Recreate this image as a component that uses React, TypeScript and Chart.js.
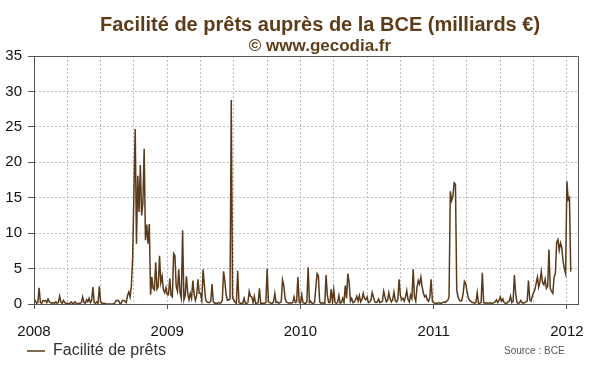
import React, { useEffect, useRef } from 'react';
import { Chart, registerables } from 'chart.js';

Chart.register(...registerables);

const TITLE = 'Facilité de prêts auprès de la BCE (milliards €)';
const SUBTITLE = '© www.gecodia.fr';
const SERIES_LABEL = 'Facilité de prêts';
const SOURCE = 'Source : BCE';
const YEAR_LABELS = ['2008', '2009', '2010', '2011', '2012'];
const Y_MIN = 0;
const Y_MAX = 35;
const Y_STEP = 5;
const STEPS_PER_YEAR = 104; // two readings per week

// Marginal lending facility (billions €), two readings per week
const y2008 = [
  0.6, 0.5, 0.1, 0.2, 2.3, 0.2, 0.1, 0.5, 0.4, 0.5,
  0.2, 0.7, 0.3, 0.2, 0.1, 0.2, 0.1, 0.3, 0.1, 0.2,
  1.1, 0.3, 0.1, 0.5, 0.2, 0.1, 0.1, 0.0, 0.1, 0.3,
  0.1, 0.1, 0.3, 0.1, 0.0, 0.1, 0.1, 0.2, 1.0, 0.2,
  0.1, 0.6, 0.3, 0.8, 0.2, 0.5, 2.4, 0.2, 0.1, 0.3,
  0.1, 2.5, 0.3, 0.1, 0.1, 0.1, 0.0, 0.0, 0.0, 0.0,
  0.0, 0.0, 0.0, 0.1, 0.5, 0.5, 0.5, 0.1, 0.1, 0.5,
  0.5, 0.4, 0.2, 1.2, 1.7, 1.0, 2.5, 6.5, 15.8, 24.7,
  8.5, 18.1, 13.0, 19.6, 12.5, 14.3, 21.9, 9.0, 11.2, 8.5,
  11.3, 1.3, 3.8, 2.2, 2.0, 5.9, 2.1, 2.5, 6.8, 3.0,
  3.9, 2.0, 1.6, 2.3,
];

const y2009 = [
  1.3, 1.3, 3.6, 1.2, 1.0, 7.1, 6.8, 2.5, 1.8, 4.9,
  1.6, 0.8, 10.4, 0.6, 1.2, 3.9, 1.5, 0.6, 1.5, 0.8,
  3.3, 1.4, 0.5, 1.2, 3.5, 1.5, 1.5, 0.5, 4.9, 2.6,
  0.6, 0.3, 0.2, 0.2, 0.4, 2.8, 0.3, 0.1, 0.1, 0.1,
  0.2, 0.1, 0.2, 0.5, 4.6, 3.2, 1.3, 0.5, 0.6, 0.7,
  28.8, 0.8, 0.6, 0.2, 0.1, 4.7, 0.2, 0.1, 0.1, 0.1,
  0.8, 0.1, 0.1, 0.2, 1.8, 1.1, 1.0, 0.2, 1.1, 0.1,
  0.1, 0.2, 2.2, 0.1, 0.1, 0.1, 0.1, 0.2, 5.0, 0.3,
  0.2, 0.1, 0.1, 0.3, 1.5, 0.2, 0.3, 0.1, 0.2, 0.3,
  3.4, 2.6, 0.8, 0.3, 0.2, 0.1, 0.2, 0.1, 0.2, 1.0,
  0.2, 0.3, 3.8, 0.3,
];

const y2010 = [
  0.1, 1.3, 0.2, 0.1, 0.1, 0.3, 5.2, 0.2, 0.4, 0.1,
  0.1, 0.2, 2.3, 4.3, 4.0, 0.3, 0.1, 0.2, 0.1, 0.1,
  4.1, 1.2, 0.2, 0.2, 2.1, 0.3, 2.0, 0.2, 0.1, 0.2,
  1.2, 0.1, 0.2, 0.8, 0.2, 2.6, 0.8, 4.3, 3.0, 0.4,
  0.8, 0.2, 0.3, 0.6, 1.1, 0.4, 1.2, 0.3, 0.6, 1.5,
  0.8, 0.6, 1.0, 0.2, 0.3, 0.5, 1.6, 1.0, 0.3, 0.2,
  0.3, 0.7, 0.2, 0.3, 0.4, 1.8, 1.0, 0.3, 0.5, 1.6,
  0.7, 0.3, 0.6, 1.7, 0.5, 0.3, 0.6, 3.5, 1.2, 0.6,
  0.8, 0.4, 1.0, 1.9, 0.6, 0.3, 1.3, 0.8, 4.9, 1.0,
  0.4, 2.4, 3.3, 2.8, 3.8, 2.4, 1.5, 1.0, 1.2, 0.6,
  0.4, 1.0, 3.5, 0.4,
];

const y2011 = [
  0.2, 0.1, 0.1, 0.1, 0.2, 0.1, 0.1, 0.2, 0.3, 0.2,
  0.4, 0.5, 1.0, 15.9, 14.6, 15.2, 17.1, 16.9, 2.0, 1.0,
  0.6, 0.4, 0.5, 1.5, 3.2, 2.9, 1.8, 0.9, 0.5, 0.4,
  0.2, 0.2, 0.1, 0.2, 1.6, 0.1, 0.1, 0.2, 4.4, 0.2,
  0.1, 0.2, 0.1, 0.1, 0.2, 0.1, 0.1, 0.2, 0.3, 0.6,
  0.2, 0.5, 1.0, 0.4, 0.7, 0.2, 0.1, 0.1, 0.3, 0.4,
  1.1, 0.2, 0.4, 4.1, 1.5, 0.2, 0.1, 0.2, 0.5, 0.2,
  0.1, 0.2, 0.3, 0.4, 3.3, 0.6, 0.4, 1.1, 1.6, 2.0,
  2.9, 3.8, 2.4, 3.2, 4.6, 3.0, 2.7, 3.5, 2.2, 2.5,
  7.7, 2.2, 1.8, 1.5, 3.8, 4.3, 8.7, 9.1, 7.6, 8.6,
  8.0, 6.0, 5.0, 4.3,
];

const y2012 = [17.3, 14.7, 15.0, 4.6];

const X_MIN = 2008;
const X_MAX = 2012 + 1 / 12;

const BROWN = '#5a3a1b';
const TITLE_COLOR = '#5e3c19';
const AXIS_COLOR = '#555555';
const GRID_COLOR = '#bdbdbd';
const FONT = "'Liberation Sans', Arial, Helvetica, sans-serif";

const isYear = (v: number) => Math.abs(v - Math.round(v)) < 1e-6;

export default function App() {
  const ref = useRef<HTMLCanvasElement>(null);

  useEffect(() => {
    if (!ref.current) return;
    const yearly: [number, number[]][] = [
      [2008, y2008],
      [2009, y2009],
      [2010, y2010],
      [2011, y2011],
      [2012, y2012],
    ];
    const points: { x: number; y: number }[] = [];
    yearly.forEach(([yr, arr]) => {
      arr.forEach((v, i) => points.push({ x: yr + i / STEPS_PER_YEAR, y: v }));
    });

    Chart.defaults.font.family = FONT;

    const textPlugin = {
      id: 'gecodiaTexts',
      afterLayout(chart: any) {
        // shift the legend to sit under the y axis, as in the original
        if (chart.legend) chart.legend.left = 21;
      },
      afterDraw(chart: any) {
        const { ctx, chartArea: a } = chart;
        ctx.save();
        // frame (top + right)
        ctx.strokeStyle = AXIS_COLOR;
        ctx.lineWidth = 1;
        ctx.beginPath();
        ctx.moveTo(Math.round(a.left) + 0.5, Math.round(a.top) + 0.5);
        ctx.lineTo(Math.round(a.right) + 0.5, Math.round(a.top) + 0.5);
        ctx.lineTo(Math.round(a.right) + 0.5, Math.round(a.bottom) + 0.5);
        ctx.stroke();
        // titles
        ctx.fillStyle = TITLE_COLOR;
        ctx.textAlign = 'center';
        ctx.textBaseline = 'alphabetic';
        ctx.font = `bold 20px ${FONT}`;
        ctx.fillText(TITLE, 320, 31);
        ctx.font = `bold 17px ${FONT}`;
        ctx.fillText(SUBTITLE, 320, 51);
        // source
        ctx.fillStyle = '#555555';
        ctx.textAlign = 'left';
        ctx.font = `10px ${FONT}`;
        ctx.fillText(SOURCE, 504, 354);
        ctx.restore();
      },
    };

    const chart = new Chart(ref.current, {
      type: 'line',
      data: {
        datasets: [
          {
            label: SERIES_LABEL,
            data: points,
            borderColor: BROWN,
            backgroundColor: BROWN,
            borderWidth: 1.5,
            pointRadius: 0,
            tension: 0,
            fill: false,
          },
        ],
      },
      options: {
        responsive: false,
        animation: false,
        parsing: false,
        layout: { padding: { left: 0, right: 22, top: 56, bottom: 3 } },
        plugins: {
          legend: {
            position: 'bottom',
            align: 'start',
            labels: {
              usePointStyle: true,
              pointStyle: 'line',
              pointStyleWidth: 18,
              padding: 6,
              color: '#333333',
              font: { size: 16, family: FONT },
            },
          },
          tooltip: { enabled: false },
          title: { display: false },
        },
        scales: {
          x: {
            type: 'linear',
            min: X_MIN,
            max: X_MAX,
            afterFit: (s: any) => {
              s.height = 33;
            },
            ticks: {
              stepSize: 0.25,
              autoSkip: false,
              includeBounds: false,
              maxRotation: 0,
              padding: 14,
              color: '#111111',
              font: { size: 15, family: FONT },
              callback: (v: any) => {
                const n = Number(v);
                if (!isYear(n)) return '';
                return YEAR_LABELS[Math.round(n) - 2008] ?? '';
              },
            },
            grid: {
              color: GRID_COLOR,
              lineWidth: 1,
              tickLength: 5,
              tickColor: (c: any) =>
                c.tick && isYear(c.tick.value) ? AXIS_COLOR : 'rgba(0,0,0,0)',
            },
            border: { display: true, color: AXIS_COLOR, dash: [2, 2] },
          },
          y: {
            min: Y_MIN,
            max: Y_MAX,
            afterFit: (s: any) => {
              s.width = 34;
            },
            ticks: {
              stepSize: Y_STEP,
              padding: 6,
              color: '#111111',
              font: { size: 15, family: FONT },
            },
            grid: {
              color: GRID_COLOR,
              lineWidth: 1,
              tickLength: 6,
              tickColor: AXIS_COLOR,
            },
            border: { display: true, color: AXIS_COLOR, dash: [2, 2] },
          },
        },
      },
      plugins: [textPlugin],
    } as any);

    return () => chart.destroy();
  }, []);

  return (
    <div style={{ position: 'absolute', left: 0, top: 0, width: 600, height: 372, overflow: 'hidden', background: '#ffffff' }}>
      <canvas ref={ref} width={600} height={372} style={{ display: 'block' }} />
    </div>
  );
}
